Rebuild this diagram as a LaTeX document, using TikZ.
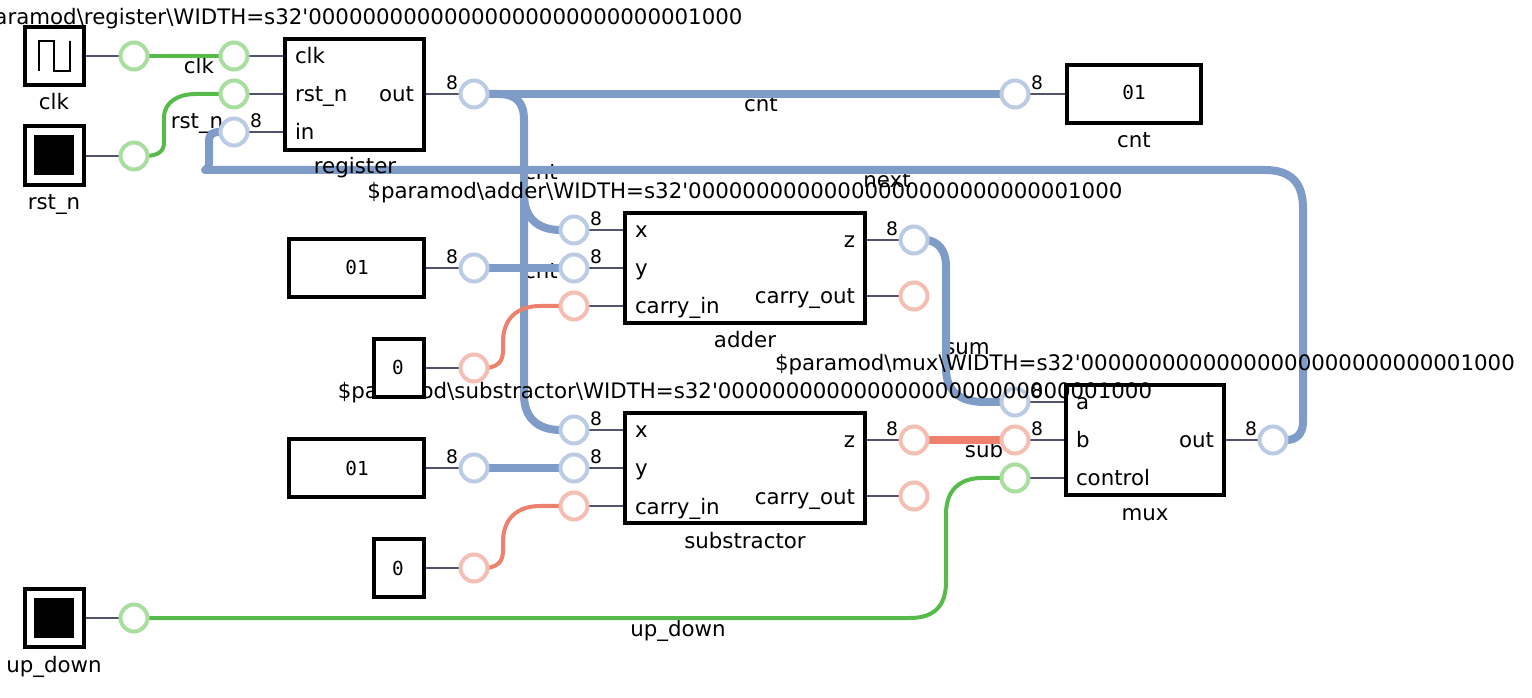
\documentclass[tikz,border=0pt]{standalone}
\usepackage{fontspec}
\newfontfamily\lab{DejaVu Sans}
\newfontfamily\mono{DejaVu Sans Mono}
\pgfdeclarelayer{labels}
\pgfdeclarelayer{wires}
\pgfdeclarelayer{titles}
\pgfdeclarelayer{front}
\pgfsetlayers{labels,wires,main,titles,front}
\definecolor{gw}{HTML}{56BB4A}
\definecolor{bw}{HTML}{7F9CC8}
\definecolor{rw}{HTML}{EE806E}
\definecolor{gc}{HTML}{A9DEA0}
\definecolor{bc}{HTML}{BBCBE4}
\definecolor{rc}{HTML}{F5BEB3}
\definecolor{stubc}{HTML}{50526E}
\tikzset{
  x=0.75pt,y=-0.75pt,
  modbox/.style={draw=black,line width=3pt,fill=white,rectangle,inner sep=0,outer sep=0},
  port/.style={circle,fill=white,line width=3pt,minimum size=20.25pt,inner sep=0,outer sep=0},
  gport/.style={port,draw=gc},
  bport/.style={port,draw=bc},
  rport/.style={port,draw=rc},
  gwire/.style={draw=gw,line width=3pt},
  bwire/.style={draw=bw,line width=6pt},
  rwire/.style={draw=rw,line width=3pt},
  rbus/.style={draw=rw,line width=6pt},
  stub/.style={draw=stubc,line width=1.5pt},
  txt/.style={inner sep=0,outer sep=0,font=\lab\fontsize{16pt}{18pt}\selectfont,text=black},
  num/.style={inner sep=0,outer sep=0,font=\lab\fontsize{14pt}{16pt}\selectfont,text=black,anchor=base},
  val/.style={inner sep=0,outer sep=0,font=\mono\fontsize{14.5pt}{16pt}\selectfont,text=black,anchor=base},
}
\newcommand{\bx}[5]{\node[modbox,minimum width={(#3-#1)*0.75pt},minimum height={(#4-#2)*0.75pt}] (#5) at ({(#1+#3)/2},{(#2+#4)/2}) {};}
\newcommand{\lbl}[5]{\node[txt,anchor=#1] (#2) at ({#3},{#4+2}) {#5};}
\newcommand{\wlab}[3]{\node[num] (#1) at ({#2},{#3+1.5}) {8};}
\newcommand{\zeros}{00000000000000000000000000001000}
\begin{document}
\begin{tikzpicture}
\useasboundingbox (0,0) rectangle (1532,698);

% external ports
\bx{24.5}{27}{83.5}{85}{clkbox}
\draw[line width=1.5pt,black] (38.5,71) -- (38.5,41) -- (54,41) -- (54,71) -- (69.5,71) -- (69.5,41) -- (69.5,71);
\bx{24.5}{126}{83.5}{185}{rstbox}
\node[fill=black,minimum size=30pt,inner sep=0] (rstsq) at (rstbox) {};
\bx{24.5}{589}{83.5}{647}{udbox}
\node[fill=black,minimum size=30pt,inner sep=0] (udsq) at (udbox) {};
\lbl{base}{clkname}{54}{108}{clk}
\lbl{base}{rstname}{54}{208}{rst\_n}
\lbl{base}{udname}{54}{670}{up\_down}

% register
\bx{285}{39}{424}{150}{reg}
\lbl{base west}{regclk}{295}{62}{clk}
\lbl{base west}{regrst}{295}{100}{rst\_n}
\lbl{base west}{regin}{295}{138}{in}
\lbl{base east}{regout}{414}{100}{out}
\lbl{base}{regname}{355}{172}{register}

% cnt output
\bx{1067}{65}{1201}{123}{cntbox}
\node[val] (cntval) at (1134,100) {01};
\lbl{base}{cntname}{1134}{146}{cnt}

% adder
\bx{625}{213}{865}{323}{add}
\lbl{base west}{addx}{635}{236}{x}
\lbl{base west}{addy}{635}{274}{y}
\lbl{base west}{addc}{635}{312}{carry\_in}
\lbl{base east}{addz}{855}{246}{z}
\lbl{base east}{addco}{855}{302}{carry\_out}
\lbl{base}{addname}{745}{346}{adder}

% subtractor
\bx{625}{413}{865}{523}{sub}
\lbl{base west}{subx}{635}{436}{x}
\lbl{base west}{suby}{635}{474}{y}
\lbl{base west}{subc}{635}{512}{carry\_in}
\lbl{base east}{subz}{855}{446}{z}
\lbl{base east}{subco}{855}{502}{carry\_out}
\lbl{base}{subname}{745}{546}{substractor}

% mux
\bx{1066}{385}{1224}{495}{mux}
\lbl{base west}{muxa}{1076}{408}{a}
\lbl{base west}{muxb}{1076}{446}{b}
\lbl{base west}{muxc}{1076}{484}{control}
\lbl{base east}{muxo}{1214}{446}{out}
\lbl{base}{muxname}{1145}{518}{mux}

% constants
\bx{289}{239}{424}{297}{k1}
\node[val] (k1v) at (357,275) {01};
\bx{289}{439}{424}{497}{k3}
\node[val] (k3v) at (357,475) {01};
\bx{374}{539}{424}{597}{k4}
\node[val] (k4v) at (398,575) {0};

% port circles
\node[gport] (pclk) at (134,56) {};
\node[gport] (prst) at (134,156) {};
\node[gport] (pud) at (134,618) {};
\node[gport] (rclk) at (234,56) {};
\node[gport] (rrst) at (234,94) {};
\node[bport] (rin) at (234,132) {};
\node[bport] (rout) at (474,94) {};
\node[bport] (cntin) at (1015,94) {};
\node[bport] (ax) at (574,230) {};
\node[bport] (ay) at (574,268) {};
\node[rport] (ac) at (574,306) {};
\node[bport] (az) at (914,240) {};
\node[rport] (aco) at (914,296) {};
\node[bport] (k1o) at (474,268) {};
\node[rport] (k2o) at (474,368) {};
\node[bport] (sx) at (574,430) {};
\node[bport] (sy) at (574,468) {};
\node[rport] (sc) at (574,506) {};
\node[rport] (sz) at (914,440) {};
\node[rport] (sco) at (914,496) {};
\node[bport] (k3o) at (474,468) {};
\node[rport] (k4o) at (474,568) {};
\node[bport] (ma) at (1015,402) {};
\node[rport] (mb) at (1015,440) {};
\node[gport] (mc) at (1015,478) {};
\node[bport] (mo) at (1273,440) {};

% bit width labels
\wlab{w1}{256}{126}
\wlab{w2}{452}{88}
\wlab{w3}{1037}{88}
\wlab{w4}{596}{224}
\wlab{w5}{596}{262}
\wlab{w6}{892}{234}
\wlab{w7}{452}{262}
\wlab{w8}{596}{424}
\wlab{w9}{596}{462}
\wlab{w10}{892}{434}
\wlab{w11}{452}{462}
\wlab{w12}{1037}{396}
\wlab{w13}{1037}{434}
\wlab{w14}{1251}{434}

\begin{pgfonlayer}{front}
\bx{374}{339}{424}{397}{k2}
\node[val] (k2v) at (398,375) {0};
\end{pgfonlayer}

\begin{pgfonlayer}{labels}
\lbl{base}{lclk}{199}{72}{clk}
\lbl{base}{lrst}{197}{127}{rst\_n}
\lbl{base}{lcnt}{761}{110}{cnt}
\lbl{base}{lcnt2}{541}{178}{cnt}
\lbl{base}{lcnt3}{541}{277}{cnt}
\lbl{base}{lnext}{887}{186}{next}
\lbl{base}{lsum}{967}{353}{sum}
\lbl{base}{lsub}{984}{456}{sub}
\lbl{base}{lud}{678}{634}{up\_down}
\end{pgfonlayer}

\begin{pgfonlayer}{wires}
% green nets
\draw[gwire] (pclk.east) -- (rclk.west);
\draw[gwire] (prst.east) .. controls (158,155) and (164,152) .. (164,142) -- (164,118) .. controls (164,102) and (178,94) .. (196,94) -- (rrst.west);
\draw[gwire] (pud.east) -- (910,618) .. controls (934,618) and (946,606) .. (946,582) -- (946,514) .. controls (946,490) and (960,478) .. (982,478) -- (mc.west);
% blue nets
\draw[bwire] (rout.east) -- (cntin.west);
\draw[bwire] (rout.east) -- (498,94) .. controls (516,94) and (524,102) .. (524,120) -- (524,395) .. controls (524,418) and (538,430) .. (sx.west);
\draw[bwire] (524,195) .. controls (524,218) and (538,230) .. (ax.west);
\draw[bwire] (k1o.east) -- (ay.west);
\draw[bwire] (k3o.east) -- (sy.west);
\draw[bwire] (az.east) .. controls (938,242) and (946,250) .. (946,266) -- (946,368) .. controls (946,392) and (960,402) .. (985,402) -- (ma.west);
\draw[bwire] (mo.east) .. controls (1296,440) and (1303,434) .. (1303,422) -- (1303,208) .. controls (1303,182) and (1290,170) .. (1265,170) -- (205,170);
\draw[bwire,line cap=round] (rin.west) .. controls (212,132) and (209,134) .. (209,142) -- (209,162) .. controls (209,168) and (207,170) .. (205,170);
% red nets
\draw[rwire] (k2o.east) .. controls (498,366) and (503,362) .. (503,350) -- (503,342) .. controls (503,318) and (518,306) .. (540,306) -- (ac.west);
\draw[rwire] (k4o.east) .. controls (498,566) and (503,562) .. (503,550) -- (503,542) .. controls (503,518) and (518,506) .. (540,506) -- (sc.west);
\draw[rbus] (sz.east) -- (mb.west);
% stubs
\draw[stub] (clkbox.east |- pclk) -- (pclk.west);
\draw[stub] (rstbox.east |- prst) -- (prst.west);
\draw[stub] (udbox.east |- pud) -- (pud.west);
\draw[stub] (rclk.east) -- (reg.west |- rclk);
\draw[stub] (rrst.east) -- (reg.west |- rrst);
\draw[stub] (rin.east) -- (reg.west |- rin);
\draw[stub] (reg.east |- rout) -- (rout.west);
\draw[stub] (cntin.east) -- (cntbox.west);
\draw[stub] (ax.east) -- (add.west |- ax);
\draw[stub] (ay.east) -- (add.west |- ay);
\draw[stub] (ac.east) -- (add.west |- ac);
\draw[stub] (add.east |- az) -- (az.west);
\draw[stub] (add.east |- aco) -- (aco.west);
\draw[stub] (k1.east) -- (k1o.west);
\draw[stub] (k2.east) -- (k2o.west);
\draw[stub] (sx.east) -- (sub.west |- sx);
\draw[stub] (sy.east) -- (sub.west |- sy);
\draw[stub] (sc.east) -- (sub.west |- sc);
\draw[stub] (sub.east |- sz) -- (sz.west);
\draw[stub] (sub.east |- sco) -- (sco.west);
\draw[stub] (k3.east) -- (k3o.west);
\draw[stub] (k4.east) -- (k4o.west);
\draw[stub] (ma.east) -- (mux.west |- ma);
\draw[stub] (mb.east) -- (mux.west |- mb);
\draw[stub] (mc.east) -- (mux.west |- mc);
\draw[stub] (mux.east |- mo) -- (mo.west);
\end{pgfonlayer}

\begin{pgfonlayer}{titles}
\lbl{base}{treg}{355}{23}{\$paramod\textbackslash register\textbackslash WIDTH=s32'\zeros}
\lbl{base}{tadd}{745}{197}{\$paramod\textbackslash adder\textbackslash WIDTH=s32'\zeros}
\lbl{base}{tsub}{745}{397}{\$paramod\textbackslash substractor\textbackslash WIDTH=s32'\zeros}
\lbl{base}{tmux}{1145}{369}{\$paramod\textbackslash mux\textbackslash WIDTH=s32'\zeros}
\end{pgfonlayer}
\end{tikzpicture}
\end{document}
